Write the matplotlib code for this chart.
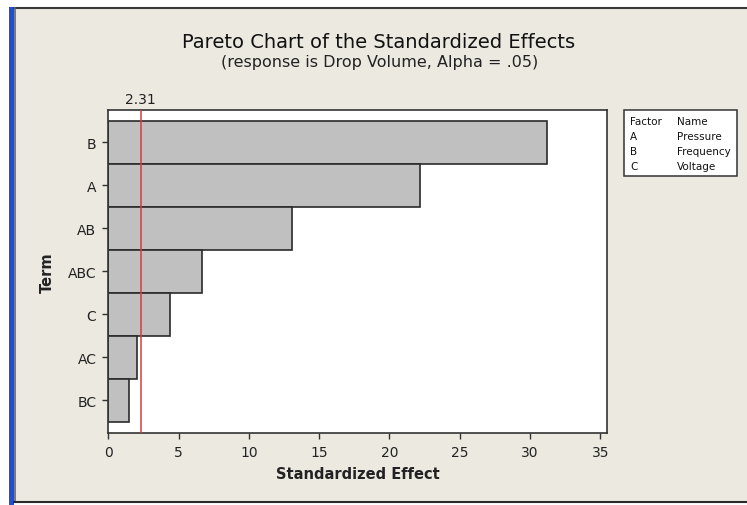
import matplotlib.pyplot as plt
import matplotlib.patches as mpatches
import matplotlib.lines as mlines

# Data
terms = ['B', 'A', 'AB', 'ABC', 'C', 'AC', 'BC']
effects = [31.2, 22.2, 13.1, 6.65, 4.4, 2.05, 1.5]
critical = 2.31
x_ticks = [0, 5, 10, 15, 20, 25, 30, 35]
factors = ['A', 'B', 'C']
factor_names = ['Pressure', 'Frequency', 'Voltage']

BG = '#ECE9E1'

fig = plt.figure(figsize=(7.47, 5.06), dpi=100)
fig.patch.set_facecolor('white')

# window-like frame: beige panel, blue strip on the left, dark edges
W, H = 747.0, 506.0
fig.patches.append(mpatches.Rectangle((14 / W, 3 / H), 1 - 14 / W, 1 - 11 / H,
                                      transform=fig.transFigure, facecolor=BG,
                                      edgecolor='none', zorder=0))
fig.patches.append(mpatches.Rectangle((9 / W, 0), 5 / W, 1 - 8 / H,
                                      transform=fig.transFigure, facecolor='#1f4fd6',
                                      edgecolor='none', zorder=1))
fig.lines.append(mlines.Line2D([14.5 / W, 1], [1 - 9 / H, 1 - 9 / H],
                               transform=fig.transFigure, color='#3a3a3a', lw=1.5))
fig.lines.append(mlines.Line2D([15 / W, 15 / W], [3 / H, 1 - 9 / H],
                               transform=fig.transFigure, color='#666666', lw=1.2))
fig.lines.append(mlines.Line2D([14 / W, 1], [3 / H, 3 / H],
                               transform=fig.transFigure, color='#2a2a2a', lw=1.5))

ax = fig.add_axes([108.3 / W, 72 / H, (607 - 108.3) / W, (434 - 110.7) / H])
ax.set_zorder(5)
ax.set_facecolor('white')

pos = list(range(len(terms)))
ax.barh(pos, effects, height=1.0, color='#C0C0C0', edgecolor='#2b2b2b', linewidth=1.2)
ax.axvline(critical, color='#d04040', lw=1.1, zorder=3)

ax.set_xlim(0, 35.47)
ax.set_ylim(len(terms) - 1 + 0.76, -0.76)
ax.set_yticks(pos)
ax.set_yticklabels(terms)
ax.set_xticks(x_ticks)
ax.set_xticklabels([str(t) for t in x_ticks])

for s in ax.spines.values():
    s.set_color('#333333')
    s.set_linewidth(1.2)
ax.tick_params(axis='both', length=4.5, width=1, color='#333333', labelsize=10,
               labelcolor='#222222', pad=4)
ax.tick_params(axis='x', pad=4)

ax.set_xlabel('Standardized Effect', fontsize=10.5, fontweight='bold', color='#222222', labelpad=5)
ax.set_ylabel('Term', fontsize=10.5, fontweight='bold', color='#222222', labelpad=9)

# critical value label above the plot
ax.text(critical, 1.012, '2.31', transform=ax.get_xaxis_transform(), ha='center', va='bottom',
        fontsize=10, color='#222222')

fig.text(379 / W, 1 - 42 / H, 'Pareto Chart of the Standardized Effects',
         ha='center', va='center', fontsize=14, color='#111111')
fig.text(380 / W, 1 - 62 / H, '(response is Drop Volume, Alpha = .05)',
         ha='center', va='center', fontsize=11.5, color='#222222')

# factor legend box
fig.patches.append(mpatches.Rectangle((624 / W, 1 - 177 / H), 113 / W, 66 / H,
                                      transform=fig.transFigure, facecolor='white',
                                      edgecolor='#333333', lw=1.1, zorder=2))
rows = [('Factor', 'Name')] + list(zip(factors, factor_names))
for i, (f, n) in enumerate(rows):
    y = 1 - (122 + 15 * i) / H
    fig.text(630 / W, y, f, ha='left', va='center', fontsize=7.5, color='#111111', zorder=3)
    fig.text(677 / W, y, n, ha='left', va='center', fontsize=7.5, color='#111111', zorder=3)

fig.savefig('out.png', dpi=100, facecolor=fig.get_facecolor())
